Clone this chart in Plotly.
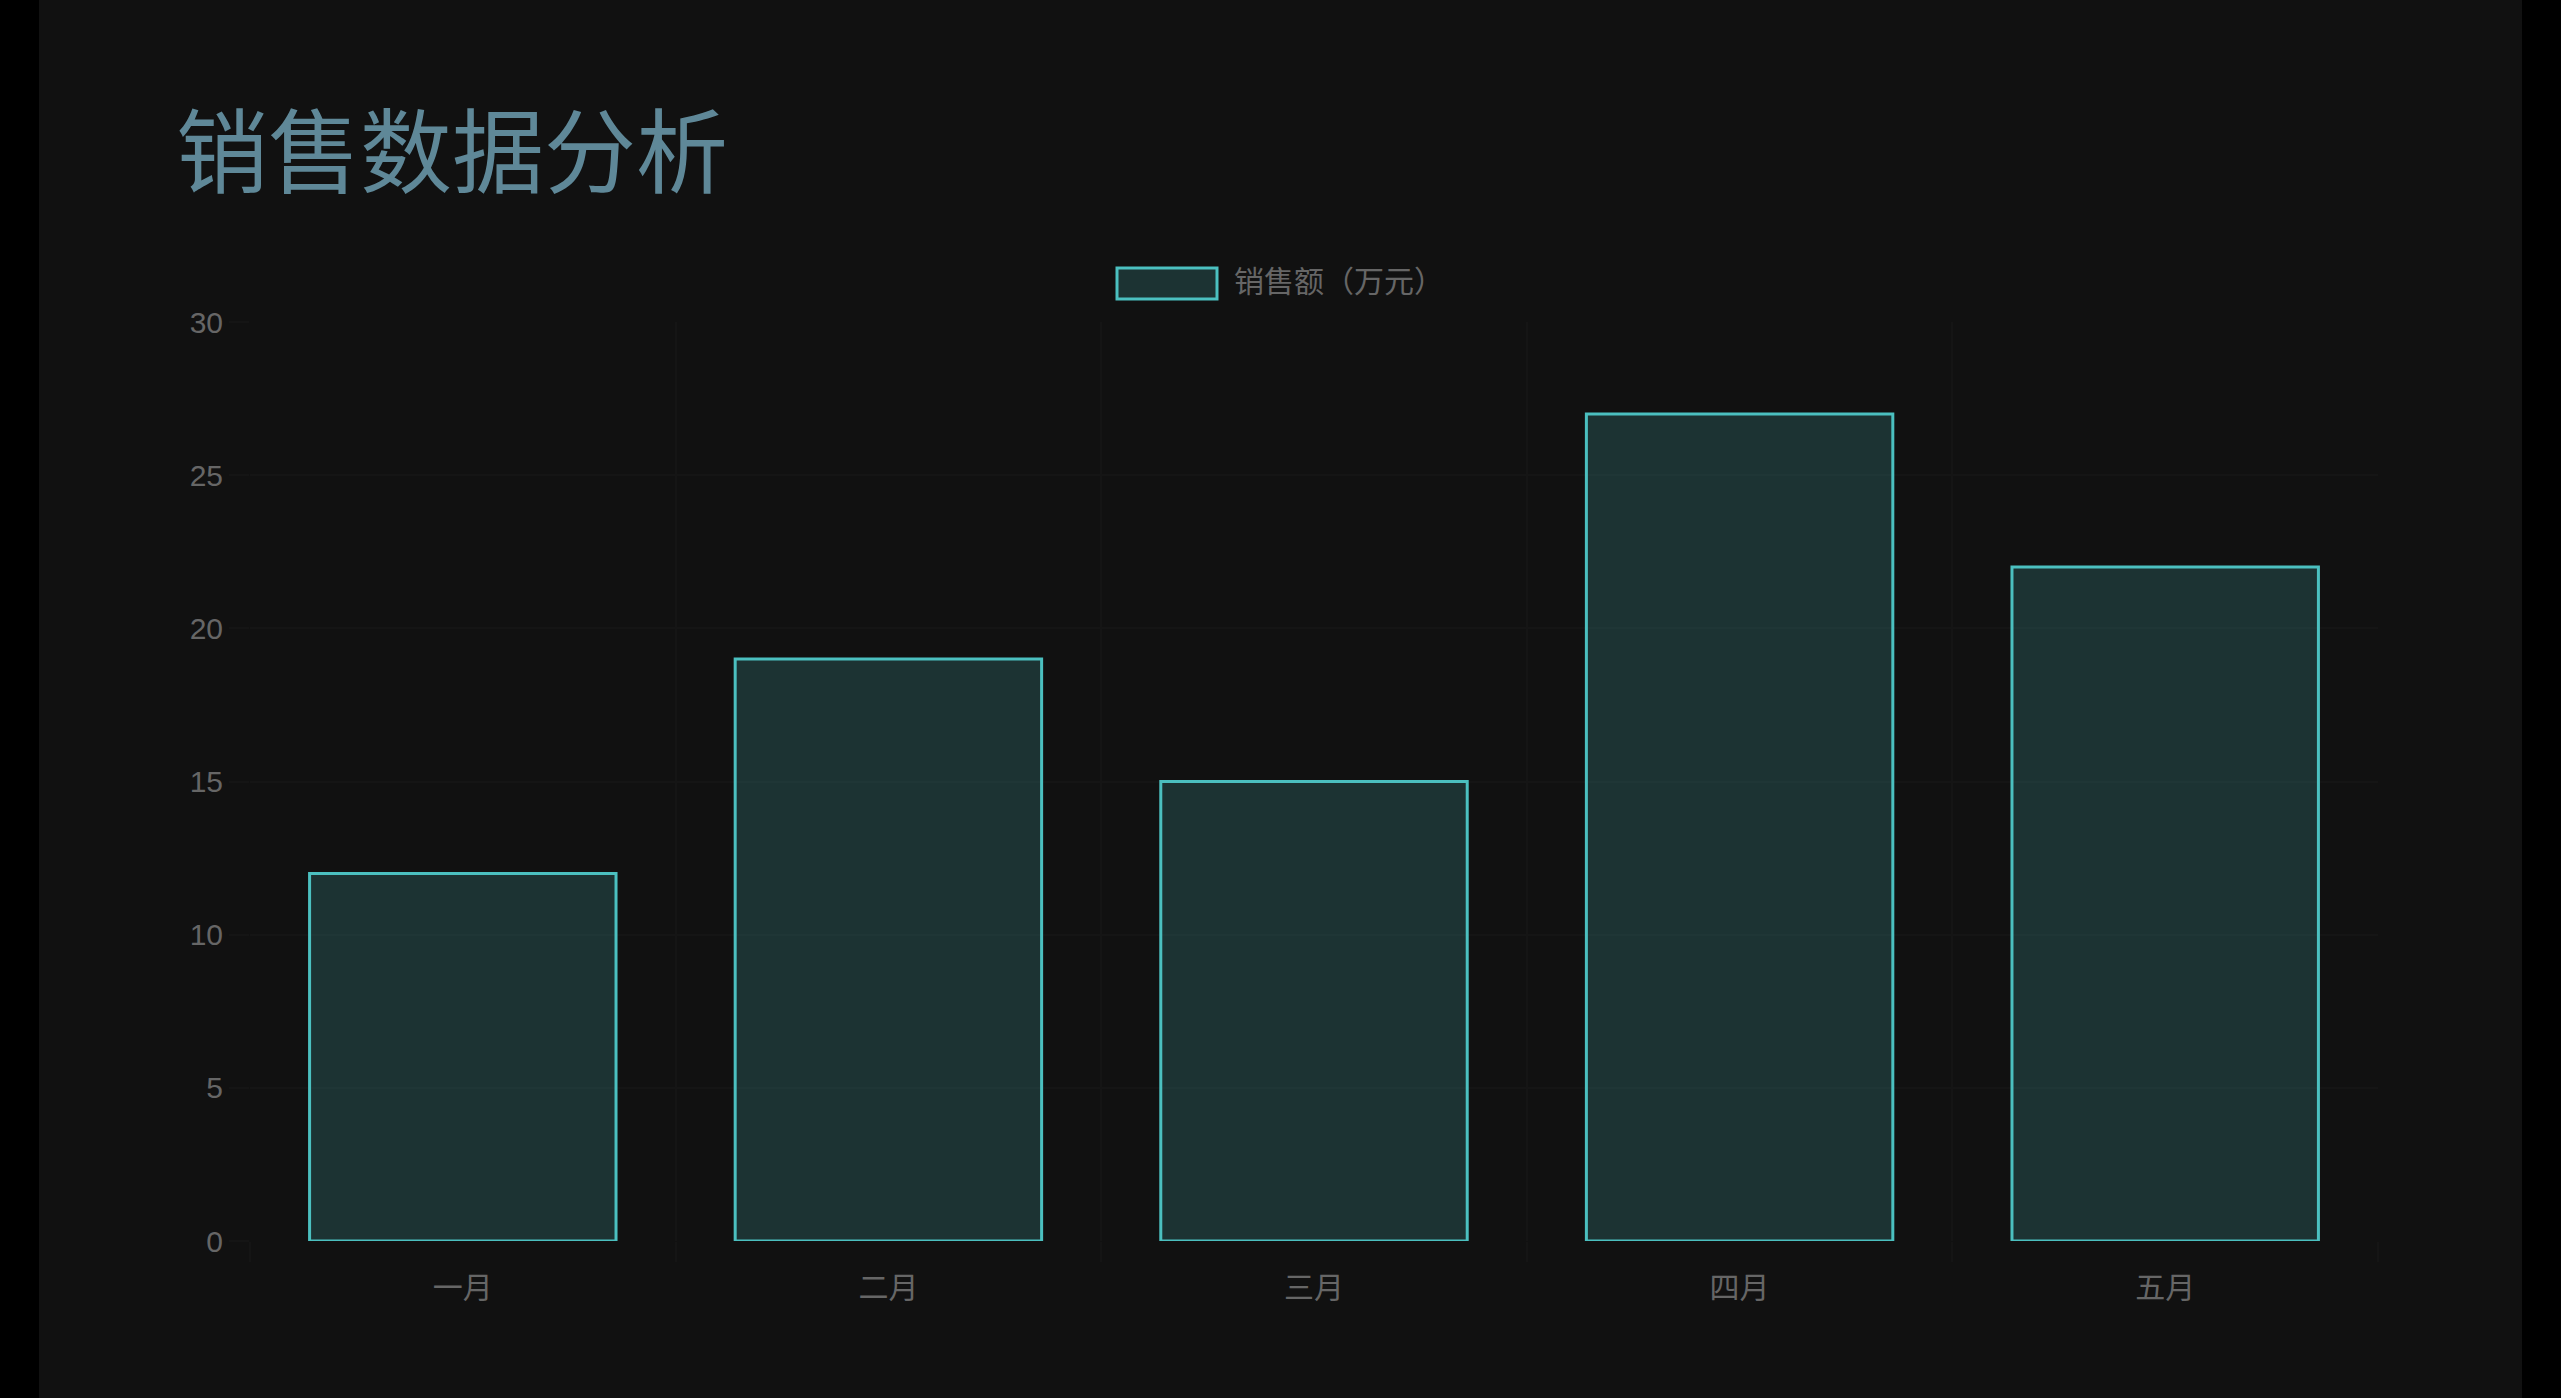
import plotly.graph_objects as go

months = ["一月", "二月", "三月", "四月", "五月"]
sales = [12, 19, 15, 27, 22]
series_name = "销售额（万元）"
title_text = "销售数据分析"
y_ticks = [0, 5, 10, 15, 20, 25, 30]

W, H = 2561, 1398
L, R, T, B = 250, 183, 322, 157
pw, ph = W - L - R, H - T - B

def px(x):
    return (x - L) / pw

def py(y):
    return (H - B - y) / ph

fill = "rgba(75,192,192,0.2)"
edge = "rgb(75,192,192)"
grid = "#151515"
tick_font = dict(family="Liberation Sans, Arial, Noto Sans CJK SC", size=30, color="#666666")

fig = go.Figure(
    go.Bar(
        x=months,
        y=sales,
        name=series_name,
        marker=dict(color=fill, line=dict(color=edge, width=3)),
        hoverinfo="x+y",
    )
)

fig.update_layout(
    width=W,
    height=H,
    margin=dict(l=L, r=R, t=T, b=B, pad=0),
    paper_bgcolor="#000000",
    plot_bgcolor="rgba(0,0,0,0)",
    showlegend=False,
    bargap=0.28,
    title=dict(
        text=title_text,
        xref="container",
        yref="container",
        x=176 / W,
        xanchor="left",
        y=1 - 154 / H,
        yanchor="middle",
        font=dict(family="Noto Sans CJK SC", size=92, color="#5f8898"),
    ),
    shapes=[
        dict(type="rect", xref="paper", yref="paper", x0=px(39), x1=px(2522),
             y0=py(H + 10), y1=py(-10), fillcolor="#111111", line=dict(width=0), layer="below"),
        dict(type="rect", xref="paper", yref="paper", x0=px(1117), x1=px(1217),
             y0=py(299), y1=py(268), fillcolor=fill, line=dict(color=edge, width=3), layer="above"),
    ],
    annotations=[
        dict(text=series_name, xref="paper", yref="paper", x=px(1232), y=py(282),
             xanchor="left", yanchor="middle", showarrow=False,
             font=dict(family="Liberation Sans, Noto Sans CJK SC", size=30, color="#666666")),
    ],
)

fig.update_xaxes(
    type="category",
    tickson="boundaries",
    showgrid=True,
    gridcolor=grid,
    gridwidth=2,
    ticks="outside",
    ticklen=20,
    tickwidth=2,
    tickcolor=grid,
    ticklabelstandoff=26,
    showline=False,
    tickfont=tick_font,
    zeroline=False,
)
fig.update_yaxes(
    range=[0, 30],
    tickvals=y_ticks,
    showgrid=True,
    gridcolor=grid,
    gridwidth=2,
    zeroline=False,
    ticks="outside",
    ticklen=20,
    tickwidth=2,
    tickcolor=grid,
    showline=False,
    tickfont=tick_font,
)

fig.write_html(
    "out.html",
    config={"displayModeBar": False},
    post_script="document.body.style.margin='0';document.body.style.background='#000';",
)
